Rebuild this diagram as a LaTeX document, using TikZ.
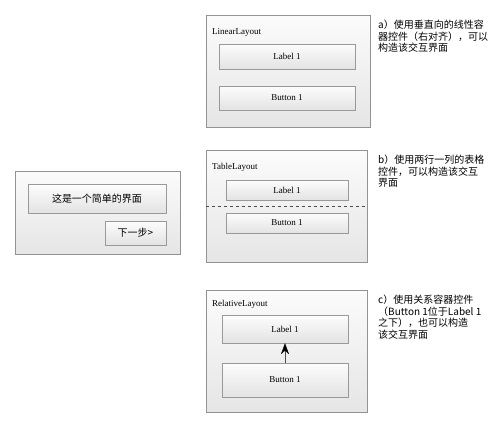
\documentclass[tikz,border=0pt]{standalone}
\usepackage{fontspec}
\setmainfont{Liberation Serif}
\newfontfamily\cjk{Noto Sans CJK SC}
\usetikzlibrary{arrows.meta}

\begin{document}
\begin{tikzpicture}
  [x=1pt, y=-1pt,
   frame/.style = {draw=gray!85, top color=gray!3, bottom color=gray!20, inner sep=0pt},
   widget/.style = {draw=gray!80, top color=gray!2, bottom color=gray!22, inner sep=0pt,
                    font=\fontsize{9}{10}\selectfont},
   title/.style = {anchor=west, inner sep=0pt, font=\fontsize{9}{10}\selectfont},
   note/.style = {anchor=north west, align=left, inner sep=0pt,
                  font=\cjk\fontsize{10}{11.8}\selectfont}]
  \useasboundingbox (0,0) rectangle (501,423);
  % the simple window
  \node[frame, minimum width=165pt, minimum height=83pt] (win) at (97.5,212.5) {};
  \node[widget, minimum width=138pt, minimum height=29pt, font=\cjk\fontsize{10}{12}\selectfont]
    (winlabel) at (97,198.5) {这是一个简单的界面};
  \node[widget, minimum width=61pt, minimum height=24pt, font=\cjk\fontsize{10}{12}\selectfont]
    (winbutton) at (135.5,233) {下一步>};
  % a) linear layout
  \node[frame, minimum width=164pt, minimum height=112pt] (linear) at (288,71) {};
  \node[title] (lineartitle) at (212,32) {LinearLayout};
  \node[widget, minimum width=136pt, minimum height=25pt] (llabel) at (287,56.5) {Label 1};
  \node[widget, minimum width=136pt, minimum height=24pt] (lbutton) at (287,98) {Button 1};
  \node[note] (anote) at (378,19.5) {a）使用垂直向的线性容\\器控件（右对齐），可以\\构造该交互界面};
  % b) table layout
  \node[frame, minimum width=161pt, minimum height=112pt] (table) at (286.5,206) {};
  \node[title] (tabletitle) at (212,167) {TableLayout};
  \node[widget, minimum width=122pt, minimum height=20pt] (tlabel) at (287,190) {Label 1};
  \node[widget, minimum width=122pt, minimum height=20pt] (tbutton) at (287,223) {Button 1};
  \draw[dashed, gray!60!black] (table.west) -- (table.east);
  \node[note] (bnote) at (378,154.5) {b）使用两行一列的表格\\控件，可以构造该交互\\界面};
  % c) relative layout
  \node[frame, minimum width=161pt, minimum height=122pt] (relative) at (286.5,351) {};
  \node[title] (relativetitle) at (212,304) {RelativeLayout};
  \node[widget, minimum width=126pt, minimum height=28pt] (rlabel) at (285,329) {Label 1};
  \node[widget, minimum width=126pt, minimum height=34pt] (rbutton) at (285,380) {Button 1};
  \draw[gray!60!black, -{Stealth[length=11pt, width=8pt, black]}] (rbutton) -- (rlabel);
  \node[note] (cnote) at (378,294.5) {c）使用关系容器控件\\（Button 1位于Label 1\\之下），也可以构造\\该交互界面};
\end{tikzpicture}
\end{document}
